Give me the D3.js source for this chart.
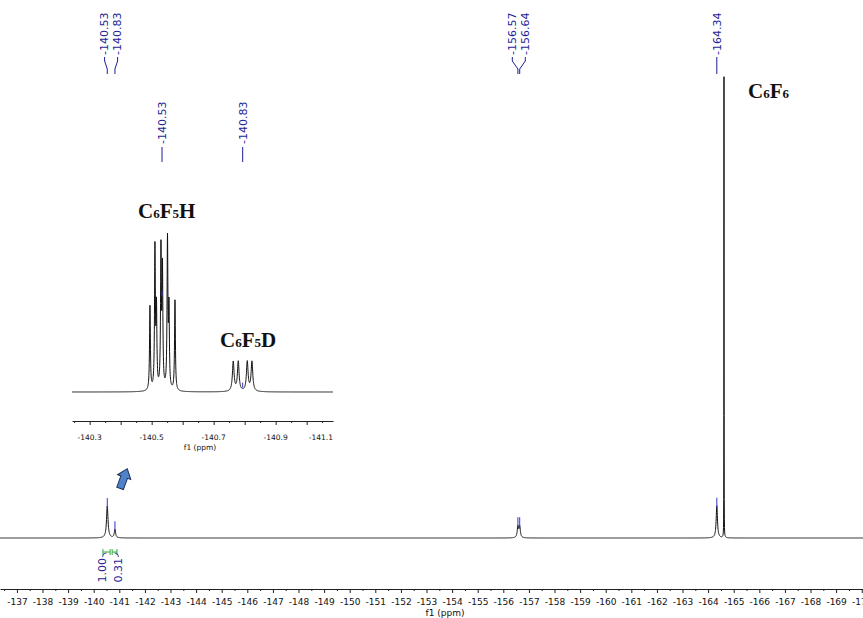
<!DOCTYPE html>
<html>
<head>
<meta charset="utf-8">
<script src="https://cdn.jsdelivr.net/npm/d3@7"></script>
<style>
  body { margin: 0; background: #fff; }
  svg { display: block; }
</style>
</head>
<body>
<svg id="chart" width="863" height="618"></svg>
<script>
// ---- data ----
// full 19F spectrum: line centres (ppm), heights (C6F6 = 100), half widths (ppm)
const mainShifts  = [-140.53, -140.83, -156.57, -156.64, -164.34, -164.62];
const mainHeights = [6.9, 1.8, 2.4, 2.4, 7.0, 100];
const mainWidths  = [0.035, 0.03, 0.03, 0.03, 0.03, 0.003];

// picked peaks shown with labels on top
const pickedPeaks = [-140.53, -140.83, -156.57, -156.64, -164.34];

// expansion of the C6F5H / C6F5D region
const insetShiftsH  = [-140.4945, -140.5106, -140.5155, -140.5300, -140.5348, -140.5510, -140.5558, -140.5752];
const insetHeightsH = [54, 90, 50, 88, 75, 95, 50, 58];
const insetShiftsD  = [-140.7632, -140.7794, -140.8084, -140.8235];
const insetHeightsD = [19, 19, 19, 19];
const insetLabels   = ["-140.53", "-140.83"];
const widthH = 0.0016, widthD = 0.0032;

// integrals
const integralFrom   = [-140.36, -140.72];
const integralTo     = [-140.64, -140.91];
const integralValues = ["1.00", "0.31"];

const mainTicks  = d3.range(-137, -171, -1);
const mainMinor  = d3.range(-136.5, -171, -1);
const insetTicks = [-140.3, -140.5, -140.7, -140.9, -141.1];
const insetMajor = d3.range(-140.3, -141.05, -0.1);
const insetMinor = d3.range(-140.25, -141.1, -0.1);

// ---- helpers ----
function spectrum(shifts, heights, widths, hi, lo, step) {
  const pts = d3.range(hi, lo, -step).concat(shifts).sort((a, b) => b - a);
  return pts.map(p => [p, d3.sum(shifts, (s, i) => heights[i] / (1 + ((p - s) / widths[i]) ** 2))]);
}
function valueAt(shifts, heights, widths, p) {
  return d3.sum(shifts, (s, i) => heights[i] / (1 + ((p - s) / widths[i]) ** 2));
}
// spread crowded labels apart around their mean
function spread(xs, gap) {
  const out = xs.slice();
  let i = 0;
  while (i < xs.length) {
    let j = i;
    while (j + 1 < xs.length && Math.abs(xs[j + 1] - xs[j]) < gap) j++;
    const n = j - i + 1, m = d3.mean(xs.slice(i, j + 1));
    for (let k = 0; k < n; k++) out[i + k] = m + (k - (n - 1) / 2) * gap;
    i = j + 1;
  }
  return out;
}

const svg = d3.select("#chart");
const navy = "#1e1e96";
const font = "'DejaVu Sans', Verdana, sans-serif";
const serif = "'Liberation Serif', 'Times New Roman', serif";

// ---- main spectrum ----
const x = d3.scaleLinear().domain([-136.34, -170.05]).range([0, 863]);
const y = d3.scaleLinear().domain([0, 100]).range([538, 77]);

const mainData = spectrum(mainShifts, mainHeights, mainWidths, -136.34, -170.05, 0.005);
const line = d3.line().x(d => x(d[0])).y(d => y(d[1]));

svg.append("path")
  .datum(mainData)
  .attr("d", line)
  .attr("fill", "none")
  .attr("stroke", "#111")
  .attr("stroke-width", 1);

// peak pick markers
svg.selectAll(".pk")
  .data(pickedPeaks)
  .enter().append("line")
  .attr("class", "pk")
  .attr("x1", d => x(d)).attr("x2", d => x(d))
  .attr("y1", d => y(valueAt(mainShifts, mainHeights, mainWidths, d)) + 2)
  .attr("y2", d => y(valueAt(mainShifts, mainHeights, mainWidths, d)) - 8)
  .attr("stroke", "#3535c8")
  .attr("stroke-width", 1);

// peak labels on top
const pkX = pickedPeaks.map(d => x(d));
const lblX = spread(pkX, 13);
svg.selectAll(".pkl")
  .data(pickedPeaks)
  .enter().append("text")
  .attr("class", "pkl")
  .attr("transform", (d, i) => `translate(${lblX[i]},55) rotate(-90)`)
  .attr("dy", "0.35em")
  .attr("font-family", font)
  .attr("font-size", 11)
  .attr("fill", navy)
  .text(d => d.toFixed(2));
svg.selectAll(".pkc")
  .data(pickedPeaks)
  .enter().append("path")
  .attr("class", "pkc")
  .attr("d", (d, i) => `M${lblX[i]},57 L${lblX[i]},61 L${pkX[i]},69 L${pkX[i]},74`)
  .attr("fill", "none")
  .attr("stroke", navy)
  .attr("stroke-width", 1);

// integrals
const intMid = integralFrom.map((f, i) => x((f + integralTo[i]) / 2));
const intLbl = spread(intMid, 16);
integralFrom.forEach((f, i) => {
  const x0 = x(f), x1 = x(integralTo[i]);
  svg.append("path")
    .attr("d", `M${x0},549 L${x0},555 M${x0},552 L${x1},552 M${x1},549 L${x1},555`)
    .attr("fill", "none")
    .attr("stroke", "#2fae3a")
    .attr("stroke-width", 1);
  svg.append("path")
    .attr("d", `M${intMid[i]},553 Q${intLbl[i]},553 ${intLbl[i]},557`)
    .attr("fill", "none")
    .attr("stroke", navy)
    .attr("stroke-width", 0.8);
  svg.append("text")
    .attr("transform", `translate(${intLbl[i]},558) rotate(-90)`)
    .attr("text-anchor", "end")
    .attr("dy", "0.35em")
    .attr("font-family", font)
    .attr("font-size", 11)
    .attr("fill", navy)
    .text(integralValues[i]);
});

// main axis
const axMain = svg.append("g").attr("transform", "translate(0,589)");
axMain.call(d3.axisBottom(x).tickValues(mainTicks).tickSize(4).tickSizeOuter(0).tickFormat(d => String(d)));
axMain.append("g").call(d3.axisBottom(x).tickValues(mainMinor).tickSize(2).tickSizeOuter(0).tickFormat(""))
  .select(".domain").remove();
axMain.selectAll("text").attr("font-family", font).attr("font-size", 9).attr("fill", "#111").attr("y", 10);
axMain.selectAll("path, line").attr("stroke", "#222");
svg.append("text")
  .attr("x", 445).attr("y", 616)
  .attr("text-anchor", "middle")
  .attr("font-family", font).attr("font-size", 9)
  .attr("fill", "#111")
  .text("f1 (ppm)");

// ---- inset ----
const xi = d3.scaleLinear().domain([-140.243, -141.085]).range([72, 333]);
const yi = d3.scaleLinear().domain([0, 100]).range([392, 236]);
const insShifts = insetShiftsH.concat(insetShiftsD);
const insHeights = insetHeightsH.concat(insetHeightsD);
const insWidths = insetShiftsH.map(() => widthH).concat(insetShiftsD.map(() => widthD));
const insetData = spectrum(insShifts, insHeights, insWidths, -140.243, -141.085, 0.0004);

svg.append("path")
  .datum(insetData)
  .attr("d", d3.line().x(d => xi(d[0])).y(d => yi(d[1])))
  .attr("fill", "none")
  .attr("stroke", "#111")
  .attr("stroke-width", 1);

const insPos = [d3.mean(insetShiftsH), d3.mean(insetShiftsD)];
svg.selectAll(".ipk")
  .data(insPos)
  .enter().append("line")
  .attr("class", "ipk")
  .attr("x1", d => xi(d)).attr("x2", d => xi(d))
  .attr("y1", d => yi(valueAt(insShifts, insHeights, insWidths, d)) - 1)
  .attr("y2", d => yi(valueAt(insShifts, insHeights, insWidths, d)) - 6)
  .attr("stroke", "#3535c8");
svg.selectAll(".ipl")
  .data(insPos)
  .enter().append("text")
  .attr("class", "ipl")
  .attr("transform", d => `translate(${xi(d)},144) rotate(-90)`)
  .attr("dy", "0.35em")
  .attr("font-family", font)
  .attr("font-size", 11)
  .attr("fill", navy)
  .text((d, i) => insetLabels[i]);
svg.selectAll(".ipc")
  .data(insPos)
  .enter().append("line")
  .attr("class", "ipc")
  .attr("x1", d => xi(d)).attr("x2", d => xi(d))
  .attr("y1", 147).attr("y2", 162)
  .attr("stroke", navy);

const axIns = svg.append("g").attr("transform", "translate(0,421)");
axIns.call(d3.axisBottom(xi).tickValues(insetMajor).tickSize(4).tickSizeOuter(0).tickFormat(""));
axIns.append("g").call(d3.axisBottom(xi).tickValues(insetMinor).tickSize(2).tickSizeOuter(0).tickFormat(""))
  .select(".domain").remove();
axIns.selectAll("path, line").attr("stroke", "#222");
const insTickText = axIns.selectAll(".itl")
  .data(insetTicks)
  .enter().append("text")
  .attr("class", "itl")
  .attr("x", d => xi(d))
  .attr("y", 19)
  .attr("text-anchor", "middle")
  .attr("font-family", font).attr("font-size", 7.5)
  .attr("fill", "#111")
  .text(d => String(d));
// keep the last label inside the axis end
insTickText.each(function(d) {
  const w = this.getComputedTextLength();
  if (xi(d) + w / 2 > 333) d3.select(this).attr("x", 333 - w / 2);
});
svg.append("text")
  .attr("x", 200).attr("y", 450)
  .attr("text-anchor", "middle")
  .attr("font-family", font).attr("font-size", 7.5)
  .attr("fill", "#111")
  .text("f1 (ppm)");

// ---- annotations ----
function formula(xp, yp, parts) {
  const t = svg.append("text")
    .attr("x", xp).attr("y", yp)
    .attr("font-family", serif)
    .attr("font-weight", "bold")
    .attr("font-size", 21)
    .attr("fill", "#111");
  parts.forEach(p => t.append("tspan").attr("font-size", p[1] ? 13 : 21).text(p[0]));
}
formula(748, 98, [["C", 0], ["6", 1], ["F", 0], ["6", 1]]);
formula(138, 218, [["C", 0], ["6", 1], ["F", 0], ["5", 1], ["H", 0]]);
formula(220, 347, [["C", 0], ["6", 1], ["F", 0], ["5", 1], ["D", 0]]);

// blue arrow pointing at the expanded region
svg.append("path")
  .attr("transform", "translate(123.5,479) rotate(20)")
  .attr("d", "M0,-11 L7,-2 L3.5,-2 L3.5,10 L-3.5,10 L-3.5,-2 L-7,-2 Z")
  .attr("fill", "#4f82cc")
  .attr("stroke", "#1d2f52")
  .attr("stroke-width", 1);
</script>
</body>
</html>
